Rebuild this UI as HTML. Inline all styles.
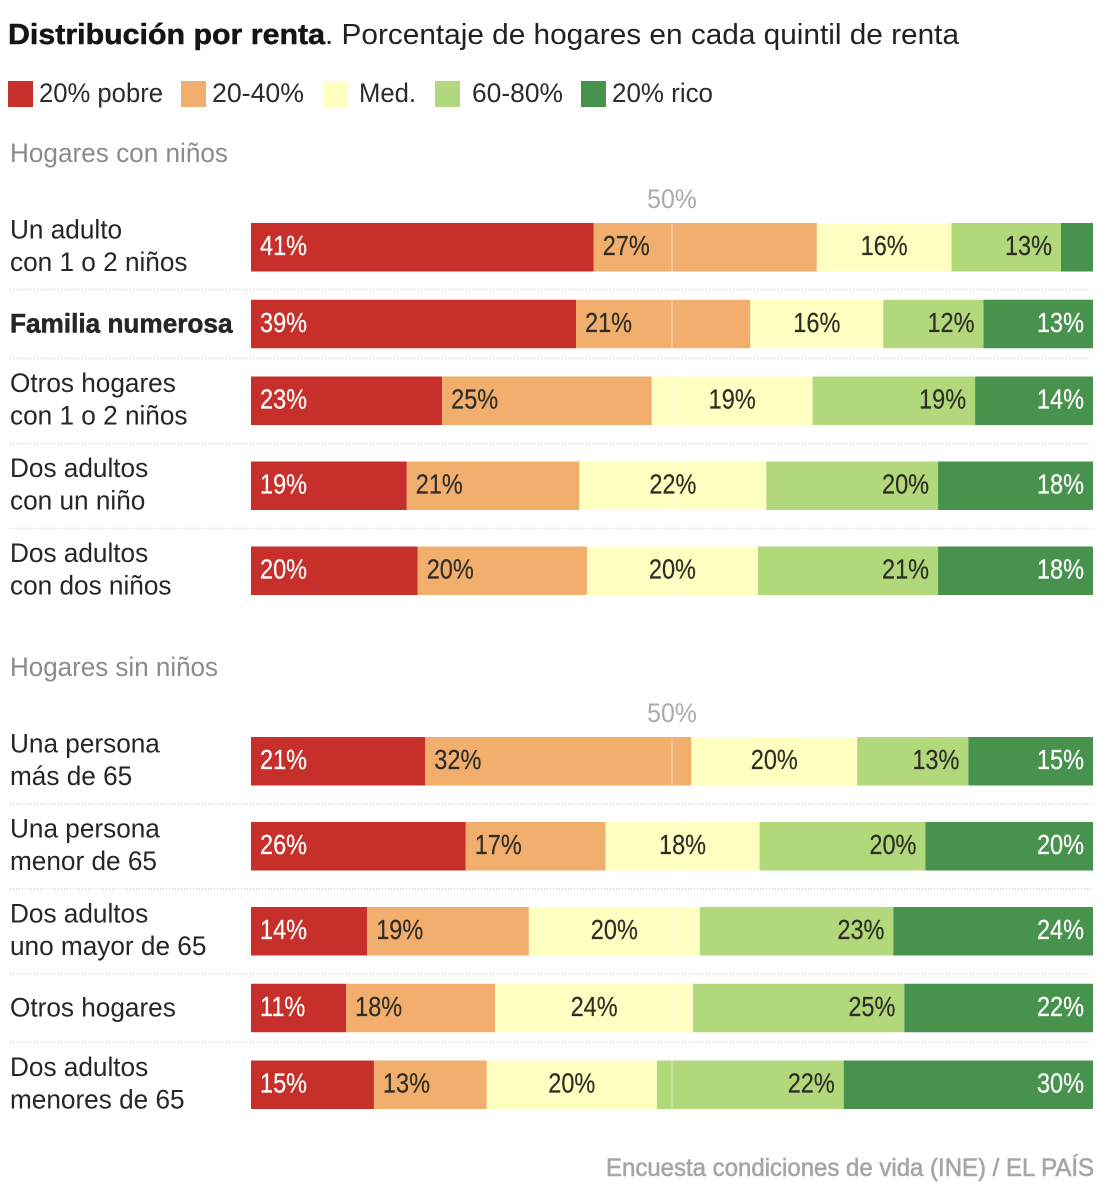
<!DOCTYPE html>
<html lang="es">
<head>
<meta charset="utf-8">
<title>Distribución por renta</title>
<style>
html,body{margin:0;padding:0;background:#fff}
svg{display:block}
text{font-family:"Liberation Sans",sans-serif;fill:#2b2b2b}
</style>
</head>
<body>
<svg id="chart" width="1108" height="1200" viewBox="0 0 1108 1200" xmlns="http://www.w3.org/2000/svg">
  <rect x="0" y="0" width="1108" height="1200" fill="#fff"/>
  <text x="8" y="44" font-size="29" font-weight="700" style="fill:#151515;stroke:#151515;stroke-width:.5" textLength="317" lengthAdjust="spacingAndGlyphs">Distribución por renta</text>
  <text x="325" y="44" font-size="29" style="fill:#222" textLength="634" lengthAdjust="spacingAndGlyphs">. Porcentaje de hogares en cada quintil de renta</text>

  <g>
    <rect x="8" y="81" width="25" height="26" fill="#c7302a"/>
    <text x="39" y="102" font-size="27" textLength="124" lengthAdjust="spacingAndGlyphs">20% pobre</text>
    <rect x="181" y="81" width="25" height="26" fill="#f2ae6d"/>
    <text x="212" y="102" font-size="27" textLength="92" lengthAdjust="spacingAndGlyphs">20-40%</text>
    <rect x="323" y="81" width="25" height="26" fill="#ffffc1"/>
    <text x="359" y="102" font-size="27" textLength="57" lengthAdjust="spacingAndGlyphs">Med.</text>
    <rect x="435" y="81" width="25" height="26" fill="#b1d87b"/>
    <text x="472" y="102" font-size="27" textLength="91" lengthAdjust="spacingAndGlyphs">60-80%</text>
    <rect x="581" y="81" width="25" height="26" fill="#47924c"/>
    <text x="612" y="102" font-size="27" textLength="101" lengthAdjust="spacingAndGlyphs">20% rico</text>
  </g>

  <text x="10" y="162" font-size="26.5" style="fill:#8b8b8b" textLength="218" lengthAdjust="spacingAndGlyphs">Hogares con niños</text>
  <text x="10" y="676" font-size="26.5" style="fill:#8b8b8b" textLength="208" lengthAdjust="spacingAndGlyphs">Hogares sin niños</text>

  <g id="plot"></g>

  <text x="606" y="1176" font-size="25" style="fill:#a6a6a6;stroke:#a6a6a6;stroke-width:.6" textLength="488" lengthAdjust="spacingAndGlyphs">Encuesta condiciones de vida (INE) / EL PAÍS</text>
</svg>

<script>
/* Categories: one entry per row, each entry holds the printed lines */
const categoriesCon = [["Un adulto","con 1 o 2 niños"],["Familia numerosa"],["Otros hogares","con 1 o 2 niños"],["Dos adultos","con un niño"],["Dos adultos","con dos niños"]];
const categoriesSin = [["Una persona","más de 65"],["Una persona","menor de 65"],["Dos adultos","uno mayor de 65"],["Otros hogares"],["Dos adultos","menores de 65"]];
const boldCategories = ["Familia numerosa"];

/* Series: share of households (%) per income quintile, hogares con niños */
const pobreCon = [40.7, 38.6, 22.7, 18.5, 19.8];
const q2Con    = [26.5, 20.7, 24.9, 20.5, 20.1];
const medCon   = [16.0, 15.8, 19.1, 22.2, 20.3];
const q4Con    = [13.0, 11.9, 19.3, 20.4, 21.4];
const ricoCon  = [ 3.8, 13.0, 14.0, 18.4, 18.4];

/* Series: hogares sin niños */
const pobreSin = [20.7, 25.5, 13.8, 11.3, 14.6];
const q2Sin    = [31.6, 16.6, 19.2, 17.7, 13.4];
const medSin   = [19.7, 18.3, 20.3, 23.5, 20.2];
const q4Sin    = [13.2, 19.7, 23.0, 25.1, 22.2];
const ricoSin  = [14.8, 19.9, 23.7, 22.4, 29.6];

const seriesNames = ["pobre","q2","med","q4","rico"];
const seriesColors = ["#c7302a","#f2ae6d","#ffffc1","#b1d87b","#47924c"];
const referenceTick = 50;

const plotEl = document.getElementById('plot');
const NS = 'http://www.w3.org/2000/svg';
const xLeft = 251, xRight = 1093, barH = 48.5;
function xScale(v){ return xLeft + (xRight - xLeft) * v / 100; }
function slug(s){ return s.toLowerCase().normalize('NFD').replace(/[\u0300-\u036f]/g,'').replace(/[^a-z0-9]+/g,'-'); }

function make(tag, attrs, parent){
  const el = document.createElementNS(NS, tag);
  for (const k in attrs) el.setAttribute(k, attrs[k]);
  (parent || plotEl).appendChild(el);
  return el;
}
function makeText(str, x, y, size, anchor, color, sx, weight, parent, stroke){
  const el = make('text', {
    transform: 'translate(' + x + ',' + y + ') scale(' + sx + ',1)',
    'font-size': size,
    'text-anchor': anchor,
    'font-weight': weight || 400,
    style: 'fill:' + color + (stroke ? ';stroke:' + color + ';stroke-width:' + stroke : '')
  }, parent);
  el.textContent = str;
  return el;
}

function drawGroup(groupName, categories, series, startY, tickY){
  const tick = makeText(referenceTick + '%', xScale(referenceTick), tickY, 27, 'middle', '#ababab', 0.92);
  
  

  let y = startY;
  categories.forEach(function(lines, i){
    const two = lines.length > 1;
    const rowName = slug(lines.join(' ')) + '-' + groupName;

    const row = make('g', {});
    
    

    lines.forEach(function(line, li){
      const isBold = boldCategories.indexOf(line) >= 0;
      const baseline = two ? y + 15.5 + li * 32.5 : y + 32.5;
      const label = makeText(line, 10, baseline, 27, 'start', '#262626', 0.97, isBold ? 700 : 400, row, isBold ? 0.5 : 0);
      
      
    });

    let cum = 0;
    series.forEach(function(values, s){
      const v = values[i];
      const x0 = xScale(cum), x1 = xScale(cum + v);
      const seg = make('rect', {x: x0, y: y, width: x1 - x0, height: barH, fill: seriesColors[s]}, row);
      
      
      cum += v;
    });

    const refLine = make('line', {x1: xScale(referenceTick), x2: xScale(referenceTick), y1: y, y2: y + barH, stroke: '#ffffff', 'stroke-opacity': 0.55, 'stroke-width': 1}, row);
    
    

    cum = 0;
    series.forEach(function(values, s){
      const v = values[i];
      const x0 = xScale(cum), x1 = xScale(cum + v);
      cum += v;
      if (v < 5) return;
      let px, anchor;
      if (s < 2) { px = x0 + 9; anchor = 'start'; }
      else if (s === 2) { px = (x0 + x1) / 2; anchor = 'middle'; }
      else { px = x1 - 9; anchor = 'end'; }
      const color = (s === 0 || s === 4) ? '#ffffff' : '#2e2e26';
      const val = makeText(Math.round(v) + '%', px, y + 32, 28, anchor, color, 0.84, 400, row, 0.2);
      
      
    });

    const pad = two ? 18.25 : 10;
    const nextTwo = i < categories.length - 1 && categories[i + 1].length > 1;
    if (i < categories.length - 1) {
      const sepY = y + barH + pad;
      const sep = make('line', {x1: 10, x2: xRight, y1: sepY, y2: sepY, stroke: '#c4c4c4', 'stroke-width': 1, 'stroke-dasharray': '1 2'});
      
      
      y = sepY + (nextTwo ? 18.25 : 10);
    }
  });
}

drawGroup('con-ninos', categoriesCon, [pobreCon, q2Con, medCon, q4Con, ricoCon], 223, 208);
drawGroup('sin-ninos', categoriesSin, [pobreSin, q2Sin, medSin, q4Sin, ricoSin], 737, 722);
</script>
</body>
</html>
